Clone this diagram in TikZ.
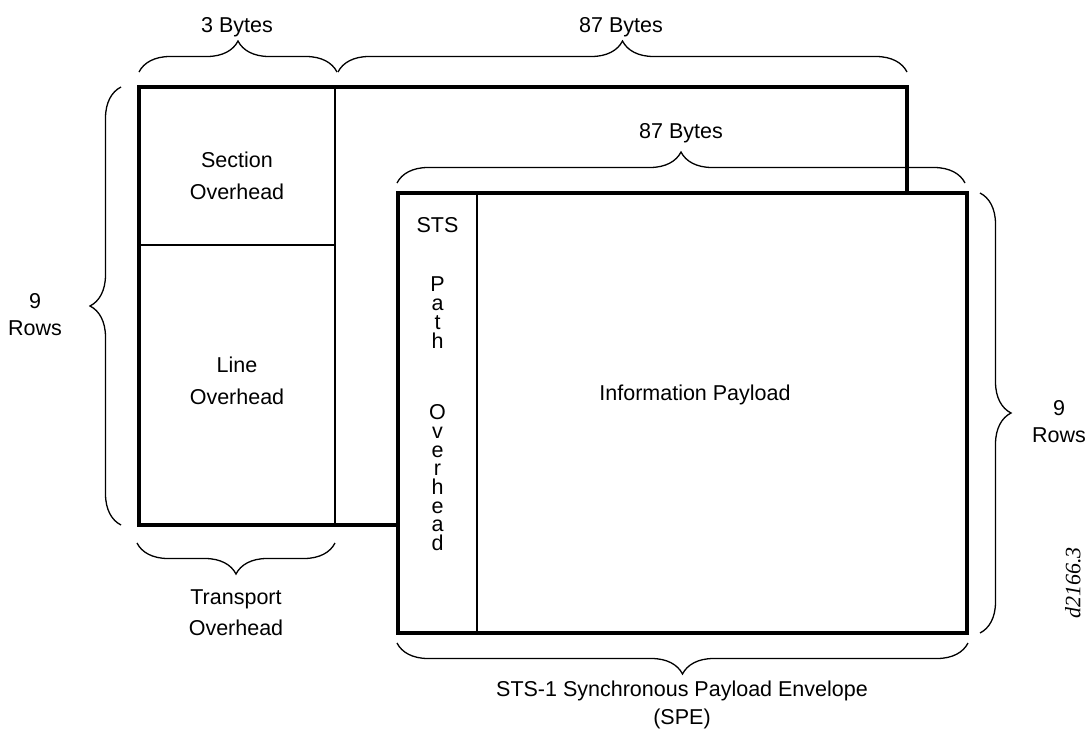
\documentclass[tikz,border=0pt]{standalone}
\usepackage{fontspec}
\setmainfont{Liberation Sans}
\newfontfamily\tagfont{Liberation Serif}
\usetikzlibrary{decorations.pathreplacing,calc}
\begin{document}
\begin{tikzpicture}[x=1pt,y=-1pt,
  thinline/.style={line width=1.3pt},
  thickline/.style={line width=4pt},
  box/.style={rectangle, inner sep=0pt, outer sep=0pt},
  lbl/.style={inner sep=0pt, font=\fontsize{21.5}{31.5}\selectfont, align=center},
  rowslbl/.style={lbl, font=\fontsize{21.5}{27.5}\selectfont},
  bracedeco/.style={line width=1.3pt, decorate, decoration={brace, amplitude=31pt}},
]
\useasboundingbox (0,0) rectangle (1086,731);

% transport overhead areas
\node[box, draw, thinline, minimum width=196pt, minimum height=158pt] (sec) at (237,166) {};
\node[box, draw, thinline, minimum width=196pt, minimum height=280pt] (lineoh) at (237,385) {};
% STS-1 frame
\node[box, draw, thickline, minimum width=768pt, minimum height=438pt] (frame) at (523,306) {};
% SPE
\node[box, draw, thickline, fill=white, minimum width=569pt, minimum height=440pt] (spe) at (682.5,413) {};
\node[box, minimum width=79pt, minimum height=440pt] (poh) at (437.5,413) {};
\draw[thinline] (poh.north east) -- (poh.south east);

% texts
\node[lbl, anchor=north] (tsec) at (237,152) {Section\\Overhead};
\node[lbl, anchor=north] (tline) at (237,357) {Line\\Overhead};
\node[lbl, anchor=north] (ttrans) at (236,589) {Transport\\Overhead};
\node[rowslbl, anchor=north] (tspe) at (682,681) {STS-1 Synchronous Payload Envelope\\(SPE)};
\node[rowslbl, anchor=north] (trowsl) at (35,293) {9\\Rows};
\node[rowslbl, anchor=north] (trowsr) at (1059,400) {9\\Rows};
\node[lbl, anchor=base] (tthree) at (237,32) {3 Bytes};
\node[lbl, anchor=base] (tframe) at (621,32) {87 Bytes};
\node[lbl, anchor=base] (tspebytes) at (681,138) {87 Bytes};
\node[lbl, anchor=base] (tinfo) at (695,400) {Information Payload};
\node[lbl, anchor=north, font=\fontsize{21.5}{18.7}\selectfont] (tpoh) at (437.5,217)
  {STS\\[41pt]P\\a\\t\\h\\[53pt]O\\v\\e\\r\\h\\e\\a\\d};
\node[inner sep=0pt, rotate=90, font=\tagfont\itshape\fontsize{22}{22}\selectfont] (tag) at (1073,583) {d2166.3};

% braces
\draw[bracedeco] ($(sec.north west)+(0,-15)$) -- ($(sec.north east)+(2,-15)$);
\draw[bracedeco] ($(sec.north east)+(3,-15)$) -- ($(frame.north east)+(0,-15)$);
\draw[bracedeco] ($(spe.north west)+(-1,-10)$) -- ($(spe.north east)+(-2,-10)$);
\draw[bracedeco] ($(spe.north east)+(13,0)$) -- ($(spe.south east)+(13,0)$);
\draw[bracedeco] ($(spe.south east)+(1,10)$) -- ($(spe.south west)+(-1,10)$);
\draw[bracedeco] ($(lineoh.south east)+(0,18)$) -- ($(lineoh.south west)+(-2,18)$);
\draw[bracedeco] ($(frame.south west)+(-18,0)$) -- ($(frame.north west)+(-18,0)$);
\end{tikzpicture}
\end{document}
